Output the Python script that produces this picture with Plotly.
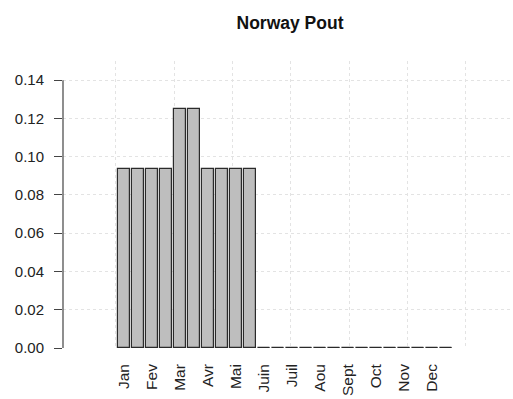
import plotly.graph_objects as go

# Semi-monthly frequencies (two bars per month)
months = ["Jan", "Fev", "Mar", "Avr", "Mai", "Juin", "Juil", "Aou", "Sept", "Oct", "Nov", "Dec"]
freq = [0.09375, 0.09375, 0.09375, 0.09375, 0.125, 0.125, 0.09375, 0.09375, 0.09375, 0.09375,
        0, 0, 0, 0, 0, 0, 0, 0, 0, 0, 0, 0, 0, 0]
y_ticks = [0.00, 0.02, 0.04, 0.06, 0.08, 0.10, 0.12, 0.14]

# barplot-style positions: width 1, space 0.2
centers = [0.7 + 1.2 * i for i in range(len(freq))]

fig = go.Figure()
fig.add_trace(go.Bar(
    x=centers, y=freq, width=1.0,
    marker=dict(color="#BEBEBE", line=dict(color="#2b2b2b", width=1.2)),
    hoverinfo="skip",
))

# Zero-height bars show only their outline
zx, zy = [], []
for c, v in zip(centers, freq):
    if v == 0:
        zx += [c - 0.5, c + 0.5, None]
        zy += [v, v, None]
fig.add_trace(go.Scatter(x=zx, y=zy, mode="lines",
                         line=dict(color="#2b2b2b", width=1.2), hoverinfo="skip"))

# y axis line spanning the tick range only
fig.add_shape(type="line", xref="paper", yref="y", x0=0, x1=0,
              y0=y_ticks[0], y1=y_ticks[-1], line=dict(color="#444", width=1.2))

font_family = "Liberation Sans, Arial, sans-serif"
grid_color = "#E3E3E3"
fig.update_layout(
    width=513, height=399,
    margin=dict(l=63, r=0, t=61, b=51),
    paper_bgcolor="white", plot_bgcolor="white",
    showlegend=False,
    bargap=0,
    title=dict(text="<b>Norway Pout</b>", x=290 / 513, xanchor="center",
               xref="container", y=1 - 23 / 399, yanchor="middle", yref="container",
               font=dict(family=font_family, size=17.5, color="#111")),
    font=dict(family=font_family, color="#222"),
    xaxis=dict(
        range=[-4.52, 34.03],
        tickmode="array", tickvals=centers[::2], ticktext=months,
        tickangle=-90, ticks="", showgrid=False, zeroline=False, showline=False,
        tickfont=dict(size=15.5, color="#222"), ticklabelstandoff=12,
        minor=dict(tickmode="linear", tick0=0, dtick=5, showgrid=True,
                   gridcolor=grid_color, griddash="dot", gridwidth=1, ticks=""),
    ),
    yaxis=dict(
        range=[0, 0.15],
        tickmode="array", tickvals=y_ticks, ticktext=[f"{v:.2f}" for v in y_ticks],
        ticks="outside", ticklen=8, tickcolor="#444", tickwidth=1.2,
        showgrid=True, gridcolor=grid_color, griddash="dot", gridwidth=1,
        zeroline=False, showline=False,
        tickfont=dict(size=15, color="#222"), ticklabelstandoff=7,
    ),
)

fig.write_html("out.html")
